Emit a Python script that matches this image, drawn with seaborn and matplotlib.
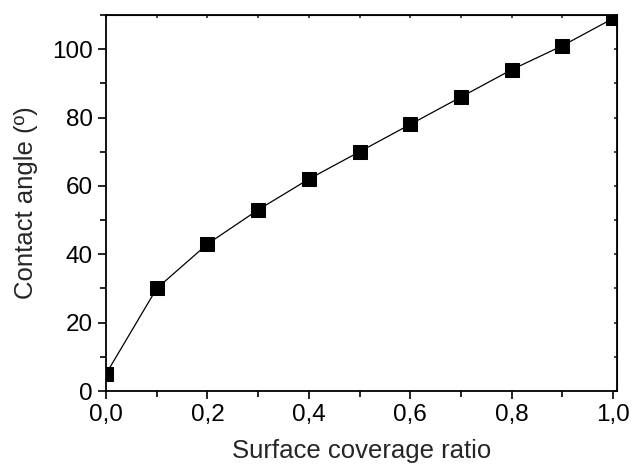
import numpy as np
import pandas as pd
import seaborn as sns
import matplotlib.pyplot as plt
import matplotlib as mpl
from matplotlib.ticker import MultipleLocator

coverage = [0.0, 0.1, 0.2, 0.3, 0.4, 0.5, 0.6, 0.7, 0.8, 0.9, 1.0]
contact_angle = [5, 30, 43, 53, 62, 70, 78, 86, 94, 101, 109]
x_ticks = [0.0, 0.2, 0.4, 0.6, 0.8, 1.0]
x_ticklabels = ['0,0', '0,2', '0,4', '0,6', '0,8', '1,0']
y_ticks = [0, 20, 40, 60, 80, 100]

sns.set_style('ticks')
mpl.rcParams['font.family'] = ['Liberation Sans', 'DejaVu Sans']

df = pd.DataFrame({'coverage': coverage, 'angle': contact_angle})

fig = plt.figure(figsize=(6.33, 4.68), dpi=100)
ax = fig.add_axes([0.1675, 0.1645, 0.8075, 0.8035])

sns.lineplot(data=df, x='coverage', y='angle', ax=ax, color='black', lw=0.9,
             marker='s', markersize=9.5, markeredgecolor='black', markerfacecolor='black')

ax.set_xlim(0, 1.008)
ax.set_ylim(0, 110)
ax.set_xticks(x_ticks)
ax.set_xticklabels(x_ticklabels)
ax.set_yticks(y_ticks)
ax.xaxis.set_minor_locator(MultipleLocator(0.1))
ax.yaxis.set_minor_locator(MultipleLocator(10))

for s in ax.spines.values():
    s.set_linewidth(1.3)
    s.set_color('black')

ax.tick_params(which='both', direction='out', width=1.2, colors='black', labelsize=17.5)
ax.tick_params(which='major', length=6)
ax.tick_params(which='minor', length=4)

# small inward ticks on the top and right frame
sec_x = ax.secondary_xaxis('top')
sec_x.set_xticks(x_ticks)
sec_x.xaxis.set_minor_locator(MultipleLocator(0.1))
sec_x.tick_params(which='both', direction='in', length=2, width=1.2, labeltop=False)
sec_y = ax.secondary_yaxis('right')
sec_y.set_yticks(y_ticks)
sec_y.yaxis.set_minor_locator(MultipleLocator(10))
sec_y.tick_params(which='both', direction='in', length=2, width=1.2, labelright=False)

ax.set_xlabel('Surface coverage ratio', fontsize=18.5, labelpad=9)
ax.set_ylabel('Contact angle (º)', fontsize=18.5, labelpad=10)

plt.savefig('out.png', dpi=100)
plt.close()
